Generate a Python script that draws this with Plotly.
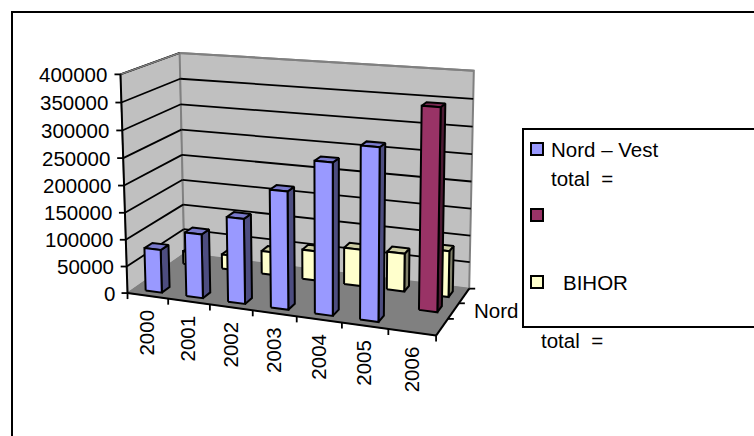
import numpy as np
import plotly.graph_objects as go

years = ["2000", "2001", "2002", "2003", "2004", "2005", "2006"]
nord_vest = [80000, 118000, 155000, 212000, 270000, 303000, None]
total_series = [None, None, None, None, None, None, 360000]
bihor = [25000, 28000, 44000, 56000, 69000, 71000, 85000]
y_ticks = [0, 50000, 100000, 150000, 200000, 250000, 300000, 350000, 400000]
y_max = 400000
FONT = "Liberation Sans"
FS = 20.5

# calibration of the oblique view: (category frac, depth frac, height frac) -> page position
calib_3d = [(0, 0, 0), (1, 0, 0), (1, 1, 0), (0, 1, 0), (0, 0, 1), (0, 1, 1), (1, 1, 1)]
calib_2d = [(128, 294), (435, 336), (470, 288), (184, 253), (121, 73), (179, 54), (474, 71)]


def fit_camera(p3, p2):
    A, b = [], []
    for (x, y, z), (u, v) in zip(p3, p2):
        A.append([x, y, z, 1, 0, 0, 0, 0, -u * x, -u * y, -u * z])
        b.append(u)
        A.append([0, 0, 0, 0, x, y, z, 1, -v * x, -v * y, -v * z])
        b.append(v)
    A = np.array(A, float)
    A = np.vstack([A, 1e-3 * np.eye(11)])
    b = np.array(b + [0] * 11, float)
    return np.append(np.linalg.lstsq(A, b, rcond=None)[0], 1).reshape(3, 4)


CAM = fit_camera(calib_3d, calib_2d)


def P(u, v, w):
    h = CAM @ np.array([u, v, w, 1.0])
    return h[0] / h[2], h[1] / h[2]


fig = go.Figure()


def poly(pts, fill=None, color="black", width=2):
    xs = [p[0] for p in pts]
    ys = [p[1] for p in pts]
    if fill:
        xs.append(xs[0])
        ys.append(ys[0])
    fig.add_trace(go.Scatter(
        x=xs, y=ys, mode="lines", fill="toself" if fill else None,
        fillcolor=fill, line=dict(color=color, width=width),
        hoverinfo="skip", showlegend=False))


def text(x, y, s, **kw):
    fig.add_annotation(x=x, y=y, text=s, showarrow=False, xref="x", yref="y",
                       font=dict(family=FONT, size=FS, color="black"), **kw)


# walls and floor
poly([P(0, 0, 0), P(0, 1, 0), P(0, 1, 1), P(0, 0, 1)], "#c0c0c0", "#808080", 1.5)
poly([P(0, 1, 0), P(1, 1, 0), P(1, 1, 1), P(0, 1, 1)], "#c0c0c0", "#808080", 2)
poly([P(0, 0, 0), P(1, 0, 0), P(1, 1, 0), P(0, 1, 0)], "#808080", "#808080", 1)

# gridlines
for t in y_ticks[1:]:
    w = t / y_max
    a, b_, c = P(0, 0, w), P(0, 1, w), P(1, 1, w)
    poly([a, b_], None, "black", 1.8)
    if t != y_max:
        poly([b_, c], None, "black", 1.8)
poly([P(0, 0, 1), P(0, 1, 1)], None, "#808080", 1.5)
poly([P(0, 1, 1), P(1, 1, 1)], None, "#808080", 2)

# axes, ticks, tick labels
poly([P(0, 0, 0), P(0, 0, 1)], None, "black", 2)
poly([P(0, 0, 0), P(1, 0, 0)], None, "black", 2)
poly([P(1, 0, 0), P(1, 1, 0)], None, "black", 2)
for t in y_ticks:
    x, y = P(0, 0, t / y_max)
    poly([(x - 6, y), (x, y)], None, "black", 1.8)
    text(x - 11, y, str(t), xanchor="right", yanchor="middle")
n = len(years)
for i in range(n + 1):
    x, y = P(i / n, 0, 0)
    poly([(x, y), (x, y + 6)], None, "black", 1.8)
for i, yr in enumerate(years):
    x, y = P((i + 0.5) / n, 0, 0)
    text(x - 1, y + 12, yr, textangle=-90, xanchor="center", yanchor="top")
for d in (1 / 3, 2 / 3, 1):
    x, y = P(1, d, 0)
    poly([(x, y), (x + 6, y)], None, "black", 1.8)
text(472, 310, "Nord", xanchor="left", yanchor="middle")
text(539, 340, "total&nbsp;&nbsp;=", xanchor="left", yanchor="middle")


def bars(vals, row, face, side, top):
    band = 1 / 3
    v0 = band * (row + 0.3)
    v1 = band * (row + 0.7)
    for i, val in enumerate(vals):
        if val is None:
            continue
        u0 = (i + 0.3) / n
        u1 = (i + 0.7) / n
        w = val / y_max
        poly([P(u1, v0, 0), P(u1, v1, 0), P(u1, v1, w), P(u1, v0, w)], side)
        poly([P(u0, v0, w), P(u1, v0, w), P(u1, v1, w), P(u0, v1, w)], top)
        poly([P(u0, v0, 0), P(u1, v0, 0), P(u1, v0, w), P(u0, v0, w)], face)


bars(bihor, 2, "#ffffcc", "#80806a", "#cccca3")
bars(total_series, 1, "#993366", "#4d1a33", "#7a2952")
bars(nord_vest, 0, "#9999ff", "#4d4d80", "#7a7acc")

# legend box and page frame
fig.add_shape(type="rect", x0=523, y0=129, x1=760, y1=327, xref="x", yref="y",
              fillcolor="white", line=dict(color="black", width=2))
fig.add_shape(type="rect", x0=12, y0=12, x1=760, y1=445, xref="x", yref="y",
              line=dict(color="black", width=2))
for y0, col in ((143, "#9999ff"), (209, "#993366"), (276, "#ffffcc")):
    fig.add_shape(type="rect", x0=531, y0=y0, x1=543, y1=y0 + 12, xref="x", yref="y",
                  fillcolor=col, line=dict(color="black", width=2))
text(549, 149, "Nord – Vest", xanchor="left", yanchor="middle")
text(549, 178, "total&nbsp;&nbsp;=", xanchor="left", yanchor="middle")
text(561, 282, "BIHOR", xanchor="left", yanchor="middle")

fig.update_layout(
    width=754, height=436, margin=dict(l=0, r=0, t=0, b=0),
    paper_bgcolor="white", plot_bgcolor="white", showlegend=False,
    xaxis=dict(range=[0, 754], visible=False, fixedrange=True),
    yaxis=dict(range=[436, 0], visible=False, fixedrange=True),
)
fig.write_html("out.html", post_script="document.body.style.margin='0';document.documentElement.style.overflow='hidden';",
               config={"displayModeBar": False})
